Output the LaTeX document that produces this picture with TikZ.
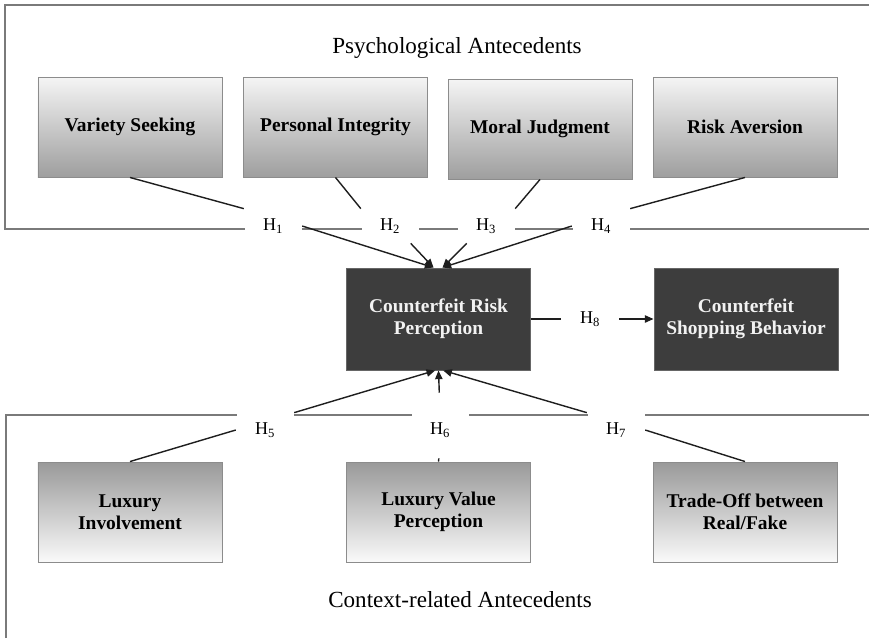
\documentclass[tikz,border=0pt]{standalone}
\usepackage{fontspec}
\setmainfont{Liberation Serif}
\usetikzlibrary{arrows.meta, positioning}
\definecolor{cframe}{HTML}{7A7A7A}
\definecolor{cedge}{HTML}{8C8C8C}
\definecolor{cdark}{HTML}{3D3D3D}
\definecolor{cline}{HTML}{1E1E1E}
\tikzset{
  every picture/.style={line width=1.2pt},
  box/.style={draw=cedge, line width=0.8pt, align=center, minimum width=5.52cm, minimum height=3cm, inner sep=4pt, font=\fontsize{16.6}{18.5}\selectfont\bfseries},
  upbox/.style={box, top color=black!4, bottom color=black!38},
  downbox/.style={box, top color=black!40, bottom color=black!2},
  darkbox/.style={box, draw=black!60, fill=cdark, text=black!5, minimum height=3.06cm},
  hyp/.style={fill=white, minimum width=1.71cm, minimum height=1cm, inner sep=0pt, font=\fontsize{15.4}{17}\selectfont},
  conn/.style={draw=cline, line width=1.2pt},
  arrow/.style={conn, -{Triangle[length=2.6mm, width=2.2mm]}},
  frame/.style={draw=cframe, line width=0.9pt},
  title/.style={font=\fontsize{19.7}{22}\selectfont, anchor=base},
}

\begin{document}
\begin{tikzpicture}[x=0.03cm, y=-0.03cm]
  \useasboundingbox (0,0) rectangle (869,638);
  % the two groups
  \draw[frame] (869,5) -- (5,5) -- (5,229) -- (869,229);
  \draw[frame] (6,638) -- (6,415) -- (869,415);
  \node[title] (psy) at (457,53) {Psychological Antecedents};
  \node[title] (ctx) at (460,607) {Context-related Antecedents};
  % antecedents
  \node[upbox] (vs) at (130,127) {Variety Seeking};
  \node[upbox] (pi) at (335.5,127) {Personal Integrity};
  \node[upbox] (mj) at (540,129) {Moral Judgment};
  \node[upbox] (ra) at (745,127) {Risk Aversion};
  \node[downbox] (li) at (130,512) {Luxury\\Involvement};
  \node[downbox] (lvp) at (438.5,512) {Luxury Value\\Perception};
  \node[downbox] (to) at (745,512) {Trade-Off between\\Real/Fake};
  % outcomes
  \node[darkbox] (crp) at (438.5,319) {Counterfeit Risk\\Perception};
  \node[darkbox] (csb) at (746,319) {Counterfeit\\Shopping Behavior};
  % hypotheses
  \node[hyp] (h1) at (273,226) {H\textsubscript{1}};
  \node[hyp] (h2) at (390,226) {H\textsubscript{2}};
  \node[hyp] (h3) at (486,226) {H\textsubscript{3}};
  \node[hyp] (h4) at (601,226) {H\textsubscript{4}};
  \node[hyp] (h5) at (265,430) {H\textsubscript{5}};
  \node[hyp] (h6) at (440,430) {H\textsubscript{6}};
  \node[hyp] (h7) at (616,430) {H\textsubscript{7}};
  \node[hyp] (h8) at (590,319) {H\textsubscript{8}};
  % paths
  \draw[conn] (vs.south) -- (h1.north west);
  \draw[conn] (pi.south) -- (h2.north west);
  \draw[conn] (mj.south) -- (h3.north east);
  \draw[conn] (ra.south) -- (h4.north east);
  \draw[arrow] (h1.east) -- ([xshift=-0.15cm]crp.north);
  \draw[arrow] (h2.320) -- ([xshift=-0.15cm]crp.north);
  \draw[arrow] (h3.222) -- ([xshift=0.12cm]crp.north);
  \draw[arrow] (h4.west) -- ([xshift=0.12cm]crp.north);
  \draw[conn] (li.north) -- (h5.west);
  \draw[conn, shorten >=9.4pt] (lvp.north) -- (h6.south);
  \draw[conn] (to.north) -- (h7.east);
  \draw[arrow] (h5.north east) -- ([xshift=-0.1cm]crp.south);
  \draw[arrow, shorten <=17pt] (h6.north) -- (crp.south);
  \draw[arrow] (h7.north west) -- ([xshift=0.14cm]crp.south);
  \draw[conn] (crp.east) -- (h8.west);
  \draw[arrow] (h8.east) -- (csb.west);
\end{tikzpicture}
\end{document}
